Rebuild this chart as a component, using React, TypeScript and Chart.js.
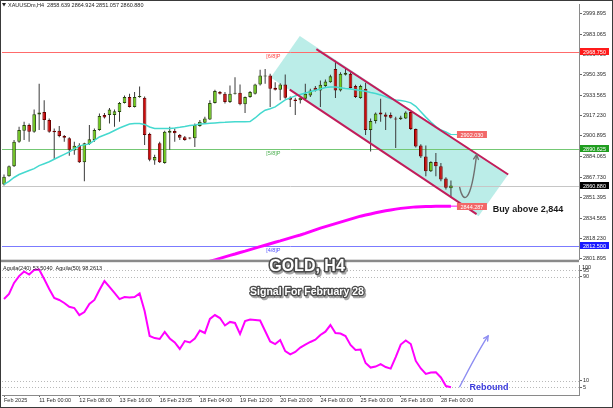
import React, { useEffect, useRef } from 'react';
import { Chart, registerables } from 'chart.js';

Chart.register(...registerables);

const FONT = '"Liberation Sans", Arial, sans-serif';
Chart.defaults.font.family = FONT;

// ---------------- price panel data (H4 bars, index 0 = 10 Feb) ----------------
const OPEN = [2861.8, 2868.4, 2876.4, 2896.3, 2905.1, 2909.7, 2904.3, 2918.2, 2920.3, 2913.7,
  2905.1, 2905.1, 2900.9, 2899.1, 2889.2, 2893.5, 2879.6, 2894.5, 2897.7, 2905.7,
  2917.7, 2917.7, 2917.7, 2920.3, 2927.5, 2932.3, 2924.3, 2932.3, 2931.8, 2902.5,
  2881.2, 2895.1, 2879.1, 2903.5, 2904.9, 2901.7, 2899.9, 2899.1, 2899.1, 2908.9,
  2911.5, 2914.2, 2927.5, 2936.3, 2935.0, 2928.3, 2935.0, 2935.8, 2926.4, 2932.3,
  2935.0, 2942.4, 2948.8, 2949.6, 2939.8, 2938.2, 2942.4, 2931.8, 2930.4, 2929.6,
  2931.0, 2933.6, 2939.8, 2937.6, 2941.1, 2944.3, 2954.8, 2937.6, 2950.2, 2951.0,
  2941.1, 2931.5, 2939.0, 2905.7, 2912.9, 2919.8, 2918.2, 2917.7, 2915.0, 2914.5,
  2915.0, 2920.3, 2906.5, 2893.2, 2884.4, 2872.4, 2879.9, 2876.4, 2866.6, 2858.639];
const HIGH = [2869.8, 2877.0, 2897.7, 2908.3, 2912.3, 2911.0, 2922.2, 2943.0, 2929.6, 2915.0,
  2907.0, 2908.9, 2901.7, 2899.9, 2896.3, 2895.1, 2895.5, 2909.7, 2907.0, 2919.0,
  2919.5, 2923.5, 2922.2, 2928.3, 2933.6, 2935.0, 2936.3, 2940.8, 2932.8, 2903.5,
  2885.7, 2896.3, 2905.1, 2908.3, 2907.0, 2902.5, 2900.9, 2899.9, 2911.0, 2913.7,
  2916.3, 2929.6, 2938.2, 2937.1, 2936.3, 2941.6, 2948.2, 2942.4, 2932.8, 2937.1,
  2943.0, 2954.2, 2955.0, 2951.0, 2944.3, 2943.5, 2950.4, 2932.8, 2931.8, 2932.8,
  2943.0, 2939.0, 2941.1, 2945.6, 2946.4, 2950.2, 2961.6, 2952.2, 2955.0, 2952.2,
  2942.2, 2942.2, 2943.8, 2915.0, 2919.8, 2931.0, 2919.8, 2919.8, 2916.3, 2917.1,
  2920.9, 2920.9, 2907.0, 2894.3, 2893.2, 2880.4, 2887.1, 2879.1, 2867.6, 2864.924];
const LOW = [2861.0, 2867.9, 2875.9, 2895.5, 2897.7, 2896.3, 2903.5, 2905.7, 2905.7, 2903.5,
  2882.3, 2899.9, 2896.3, 2884.9, 2885.7, 2879.1, 2864.4, 2893.7, 2896.3, 2905.1,
  2915.0, 2911.0, 2908.3, 2912.3, 2927.0, 2923.8, 2923.8, 2931.8, 2893.7, 2880.4,
  2877.7, 2879.1, 2878.5, 2889.7, 2896.3, 2897.7, 2897.1, 2898.3, 2891.9, 2908.3,
  2911.0, 2913.7, 2927.0, 2934.4, 2927.0, 2927.5, 2934.4, 2925.6, 2919.5, 2931.8,
  2934.4, 2941.6, 2943.0, 2924.3, 2937.6, 2929.6, 2931.0, 2924.3, 2917.7, 2927.0,
  2929.6, 2932.3, 2936.8, 2924.3, 2940.3, 2943.8, 2931.5, 2936.8, 2949.6, 2939.0,
  2931.5, 2931.0, 2901.7, 2888.4, 2911.0, 2912.3, 2905.7, 2915.0, 2891.1, 2913.7,
  2914.5, 2905.7, 2891.6, 2883.1, 2868.4, 2871.9, 2868.4, 2864.4, 2857.8, 2851.057];
const CLOSE = [2867.9, 2876.4, 2896.3, 2905.7, 2909.7, 2904.3, 2918.5, 2919.8, 2913.7, 2904.3,
  2903.9, 2900.9, 2899.5, 2889.7, 2892.9, 2879.6, 2895.1, 2898.3, 2905.7, 2916.9,
  2915.8, 2922.2, 2920.9, 2927.5, 2932.3, 2924.3, 2932.3, 2933.1, 2901.7, 2881.7,
  2883.9, 2879.6, 2904.3, 2905.1, 2903.1, 2899.5, 2897.7, 2898.9, 2909.7, 2912.3,
  2915.0, 2927.5, 2937.1, 2935.0, 2928.3, 2935.0, 2935.8, 2926.4, 2932.3, 2936.3,
  2942.4, 2949.6, 2949.6, 2939.0, 2938.2, 2942.4, 2931.8, 2930.2, 2929.1, 2931.8,
  2935.0, 2937.6, 2937.6, 2942.2, 2944.8, 2949.0, 2937.6, 2951.0, 2951.8, 2939.5,
  2932.3, 2941.1, 2905.7, 2912.9, 2919.0, 2918.2, 2916.3, 2915.5, 2914.2, 2915.8,
  2919.8, 2906.5, 2892.4, 2884.4, 2872.4, 2879.9, 2876.4, 2865.8, 2859.1, 2860.880];

const MA_FAST = [2861.8, 2864.2, 2867.4, 2869.8, 2871.4, 2873.0, 2874.5, 2877.0, 2878.5, 2880.1,
  2882.1, 2884.1, 2886.1, 2888.1, 2890.5, 2892.9, 2893.7, 2894.5, 2897.3, 2900.1,
  2901.7, 2903.3, 2905.3, 2907.3, 2908.9, 2910.5, 2910.9, 2911.0, 2910.2, 2908.1,
  2907.0, 2906.9, 2906.9, 2907.0, 2907.4, 2907.9, 2908.5, 2909.3, 2909.8, 2910.5,
  2910.8, 2911.1, 2911.4, 2911.7, 2911.9, 2912.2, 2912.3, 2912.3, 2912.3, 2912.5,
  2915.4, 2918.9, 2921.7, 2922.9, 2924.3, 2927.2, 2930.0, 2931.6, 2933.2, 2934.4,
  2935.6, 2936.6, 2937.8, 2938.8, 2939.9, 2940.4, 2940.4, 2939.8, 2939.2, 2938.8,
  2938.2, 2937.6, 2937.0, 2936.0, 2935.2, 2934.0, 2932.4, 2930.8, 2930.0, 2929.5,
  2928.8, 2927.6, 2924.8, 2920.5, 2916.1, 2912.1, 2908.5, 2905.7, 2904.1, 2902.030];

const MA_SLOW_FIRST_BAR = 41;
const MA_SLOW = [2799.8, 2801.0, 2802.2, 2803.4, 2804.6, 2805.7, 2806.9, 2808.0, 2809.2, 2810.4,
  2811.6, 2812.8, 2814.0, 2815.2, 2816.3, 2817.5, 2818.7, 2819.9, 2821.0, 2822.3,
  2823.8, 2825.2, 2826.6, 2827.8, 2829.0, 2830.2, 2831.4, 2832.6, 2833.8, 2835.0,
  2836.2, 2837.1, 2838.0, 2838.9, 2839.8, 2840.5, 2841.2, 2841.9, 2842.5, 2842.9,
  2843.3, 2843.7, 2843.9, 2844.0, 2844.1, 2844.15, 2844.2, 2844.25, 2844.287];

const PRICE_TICKS = [2999.895, 2983.065, 2966.730, 2950.395, 2933.565, 2917.230, 2900.895,
  2884.065, 2867.730, 2851.395, 2834.565, 2818.230, 2801.895];
const PRICE_MIN = 2801.1;
const PRICE_MAX = 3007.08;
const BAR_MIN = -0.4;
const BAR_MAX = 114.5;

const LEVEL_PRICES = [2968.75, 2890.625, 2812.5];
const LEVEL_NAMES = ['[6/8]P', '[5/8]P', '[4/8]P'];
const LEVEL_NAME_BAR = 52.2;
const BID_PRICE = 2860.88;

const CHANNEL_UPPER_BARS = [62.2, 100.4];
const CHANNEL_UPPER_PRICES = [2970.9, 2869.8];
const CHANNEL_LOWER_BARS = [56.9, 94.1];
const CHANNEL_LOWER_PRICES = [2938.2, 2837.8];
const CHANNEL_FILL_BARS = [58.9, 100.4, 94.5, 53.1];
const CHANNEL_FILL_PRICES = [2981.5, 2869.8, 2836.2, 2948.0];

const PATH_BARS = [90.74, 91.33, 92.9, 94.1];
const PATH_PRICES = [2859.4, 2847.4, 2843.4, 2885.7];

const BUY_TEXT = 'Buy above 2,844';
const BUY_BAR = 97.3;
const BUY_PRICE = 2841.8;

// ---------------- indicator panel data ----------------
const AGUILA = [72.8, 76.7, 85.2, 90.5, 94.0, 91.7, 95.2, 95.5, 88.2, 80.5,
  73.6, 72.1, 69.8, 66.9, 65.9, 60.5, 62.8, 69.0, 72.1, 79.8,
  86.7, 82.1, 77.5, 72.8, 74.4, 74.0, 74.4, 77.1, 63.6, 44.4,
  42.8, 42.1, 47.5, 42.5, 39.4, 34.4, 40.5, 39.4, 42.5, 48.6,
  46.7, 57.5, 60.5, 58.2, 52.5, 55.2, 54.4, 45.9, 55.9, 57.1,
  56.7, 56.3, 48.2, 40.2, 38.2, 41.3, 32.8, 30.3, 32.1, 35.5,
  37.8, 39.8, 41.5, 45.2, 47.7, 52.8, 46.7, 46.3, 44.4, 37.5,
  33.6, 34.0, 23.6, 20.1, 20.9, 22.8, 20.5, 19.3, 28.2, 37.8,
  40.9, 38.2, 25.2, 19.4, 15.2, 16.3, 16.5, 12.5, 5.9, 4.9];
const IND_MIN = -1;
const IND_MAX = 99;
const IND_TICKS = [95, 90, 10, 5];
const IND_LEVELS = [95, 90, 10, 5];
const IND_HEADER = 'Aguila(240) 53.5040  Aguila(50) 98.2613';

const REBOUND_BARS = [90.74, 92.1, 94.5, 96.4];
const REBOUND_VALUES = [5.4, 15.2, 33.6, 44.4];
const REBOUND_TEXT = 'Rebound';
const REBOUND_TEXT_BAR = 92.7;
const REBOUND_TEXT_VALUE = 4.4;

const TIME_TICK_BARS = [0, 7, 15, 23, 31, 39, 47, 55, 63, 71, 79, 87];
const TIME_TICK_LABELS = ['Feb 2025', '11 Feb 00:00', '12 Feb 08:00', '13 Feb 16:00', '16 Feb 23:05',
  '18 Feb 04:00', '19 Feb 12:00', '20 Feb 20:00', '24 Feb 00:00', '25 Feb 00:00', '26 Feb 16:00', '28 Feb 00:00'];

const TITLE = 'GOLD, H4';
const SUBTITLE = 'Signal For February 28';

// ---------------- styles ----------------
const LEVEL_LINE_COLORS = ['#ff6b6b', '#74c874', '#7b7bff'];
const LEVEL_TEXT_COLORS = ['#ff4545', '#4caf50', '#5050ff'];
const LEVEL_BOX_COLORS = ['#ff1a1a', '#1f9d1f', '#1a1aff'];
const SMALL = `5.5px ${FONT}`;

function hline(ctx: any, a: any, y: number, color: string) {
  const yy = Math.round(y) + 0.5;
  ctx.beginPath();
  ctx.moveTo(a.left, yy);
  ctx.lineTo(a.right, yy);
  ctx.strokeStyle = color;
  ctx.lineWidth = 1;
  ctx.stroke();
}

function tag(ctx: any, x: number, y: number, w: number, h: number, fill: string, text: string) {
  const top = Math.round(y - h / 2);
  ctx.fillStyle = fill;
  ctx.fillRect(x, top, w, h);
  ctx.fillStyle = '#fff';
  ctx.font = SMALL;
  ctx.textAlign = 'center';
  ctx.textBaseline = 'middle';
  ctx.fillText(text, x + w / 2, top + h / 2 + 0.5);
}

function curveArrow(ctx: any, pts: number[][], color: string, width: number, head: number) {
  ctx.strokeStyle = color;
  ctx.lineWidth = width;
  ctx.lineCap = 'round';
  ctx.beginPath();
  ctx.moveTo(pts[0][0], pts[0][1]);
  ctx.bezierCurveTo(pts[1][0], pts[1][1], pts[2][0], pts[2][1], pts[3][0], pts[3][1]);
  ctx.stroke();
  const ang = Math.atan2(pts[3][1] - pts[2][1], pts[3][0] - pts[2][0]);
  const [tx, ty] = pts[3];
  ctx.beginPath();
  ctx.moveTo(tx - head * Math.cos(ang - 0.5), ty - head * Math.sin(ang - 0.5));
  ctx.lineTo(tx, ty);
  ctx.lineTo(tx - head * Math.cos(ang + 0.5), ty - head * Math.sin(ang + 0.5));
  ctx.stroke();
}

function outlined(ctx: any, text: string, x: number, y: number, font: string, lw: number) {
  ctx.font = font;
  ctx.textAlign = 'center';
  ctx.textBaseline = 'middle';
  ctx.lineJoin = 'round';
  ctx.strokeStyle = 'rgba(60,60,60,0.45)';
  ctx.lineWidth = lw;
  ctx.strokeText(text, x + 1.5, y + 1.5);
  ctx.strokeStyle = '#4a4a4a';
  ctx.strokeText(text, x, y);
  ctx.fillStyle = '#ffffff';
  ctx.fillText(text, x, y);
}

const topPlugin = {
  id: 'topDeco',
  beforeDatasetsDraw(chart: any) {
    const { ctx, chartArea: a } = chart;
    const xs = chart.scales.x, ys = chart.scales.y;
    ctx.save();
    ctx.beginPath();
    ctx.rect(a.left, a.top, a.right - a.left, a.bottom - a.top);
    ctx.clip();
    ctx.beginPath();
    CHANNEL_FILL_BARS.forEach((b, k) => {
      const X = xs.getPixelForValue(b), Y = ys.getPixelForValue(CHANNEL_FILL_PRICES[k]);
      if (k) ctx.lineTo(X, Y); else ctx.moveTo(X, Y);
    });
    ctx.closePath();
    ctx.fillStyle = 'rgba(120, 220, 210, 0.5)';
    ctx.fill();
    LEVEL_PRICES.forEach((p, k) => hline(ctx, a, ys.getPixelForValue(p), LEVEL_LINE_COLORS[k]));
    hline(ctx, a, ys.getPixelForValue(BID_PRICE), '#c6c6c6');
    ctx.restore();
  },
  afterDatasetsDraw(chart: any) {
    const { ctx, chartArea: a } = chart;
    const xs = chart.scales.x, ys = chart.scales.y;
    const P = (b: number, p: number) => [xs.getPixelForValue(b), ys.getPixelForValue(p)];
    ctx.save();
    // channel borders
    ctx.strokeStyle = '#c21d5a';
    ctx.lineWidth = 2;
    [[CHANNEL_UPPER_BARS, CHANNEL_UPPER_PRICES], [CHANNEL_LOWER_BARS, CHANNEL_LOWER_PRICES]].forEach(([bs, ps]) => {
      const s = P(bs[0], ps[0]), e = P(bs[1], ps[1]);
      ctx.beginPath();
      ctx.moveTo(s[0], s[1]);
      ctx.lineTo(e[0], e[1]);
      ctx.stroke();
    });
    // projected path arrow
    curveArrow(ctx, PATH_BARS.map((b, k) => P(b, PATH_PRICES[k])), '#707070', 1.4, 5);
    // level names
    ctx.font = SMALL;
    ctx.textAlign = 'left';
    ctx.textBaseline = 'top';
    LEVEL_PRICES.forEach((p, k) => {
      ctx.fillStyle = LEVEL_TEXT_COLORS[k];
      ctx.fillText(LEVEL_NAMES[k], xs.getPixelForValue(LEVEL_NAME_BAR), Math.round(ys.getPixelForValue(p)) + 1.5);
    });
    // MA end labels
    const last = OPEN.length - 1;
    const lx = xs.getPixelForValue(last);
    const maTags = [
      [MA_FAST[MA_FAST.length - 1], '#45d9cf'],
      [MA_SLOW[MA_SLOW.length - 1], '#ff00ff'],
    ];
    maTags.forEach(([v, c]: any) => {
      const y = ys.getPixelForValue(v);
      ctx.strokeStyle = c;
      ctx.lineWidth = 1;
      ctx.beginPath();
      ctx.moveTo(lx, y);
      ctx.lineTo(lx + 6, y);
      ctx.stroke();
      tag(ctx, lx + 6, y, 30, 7, '#f26868', v.toFixed(3));
    });
    // buy text
    const bp = P(BUY_BAR, BUY_PRICE);
    ctx.font = `bold 9px ${FONT}`;
    ctx.fillStyle = '#1a1a1a';
    ctx.textAlign = 'left';
    ctx.textBaseline = 'middle';
    ctx.fillText(BUY_TEXT, bp[0], bp[1]);
    ctx.restore();
  },
  afterDraw(chart: any) {
    const { ctx, chartArea: a } = chart;
    const ys = chart.scales.y;
    ctx.save();
    LEVEL_PRICES.forEach((p, k) => tag(ctx, a.right + 1, ys.getPixelForValue(p), 29, 7, LEVEL_BOX_COLORS[k], p.toFixed(3)));
    tag(ctx, a.right + 1, ys.getPixelForValue(BID_PRICE), 29, 7, '#000000', BID_PRICE.toFixed(3));
    // title
    const last = OPEN.length - 1;
    ctx.fillStyle = '#222';
    ctx.beginPath();
    ctx.moveTo(2, 3);
    ctx.lineTo(6, 3);
    ctx.lineTo(4, 6.5);
    ctx.closePath();
    ctx.fill();
    ctx.font = SMALL;
    ctx.textAlign = 'left';
    ctx.textBaseline = 'middle';
    ctx.fillText(`XAUUSDm,H4  ${OPEN[last].toFixed(3)} ${HIGH[last].toFixed(3)} ${LOW[last].toFixed(3)} ${CLOSE[last].toFixed(3)}`, 8, 5);
    // panel separator
    ctx.fillStyle = '#8a8a8a';
    ctx.fillRect(0, a.bottom, a.right, 2.5);
    ctx.restore();
  },
};

const bottomPlugin = {
  id: 'botDeco',
  beforeDatasetsDraw(chart: any) {
    const { ctx, chartArea: a } = chart;
    const ys = chart.scales.y;
    ctx.save();
    ctx.setLineDash([1, 2]);
    IND_LEVELS.forEach((v) => hline(ctx, a, ys.getPixelForValue(v), '#b9b9b9'));
    ctx.restore();
  },
  afterDatasetsDraw(chart: any) {
    const { ctx } = chart;
    const xs = chart.scales.x, ys = chart.scales.y;
    ctx.save();
    curveArrow(ctx, REBOUND_BARS.map((b, k) => [xs.getPixelForValue(b), ys.getPixelForValue(REBOUND_VALUES[k])]), '#8d8df2', 1.4, 5);
    ctx.font = `bold 9px ${FONT}`;
    ctx.fillStyle = '#3b3bdc';
    ctx.textAlign = 'left';
    ctx.textBaseline = 'middle';
    ctx.fillText(REBOUND_TEXT, xs.getPixelForValue(REBOUND_TEXT_BAR), ys.getPixelForValue(REBOUND_TEXT_VALUE));
    ctx.restore();
  },
  afterDraw(chart: any) {
    const { ctx, chartArea: a } = chart;
    ctx.save();
    ctx.font = SMALL;
    ctx.fillStyle = '#222';
    ctx.textAlign = 'left';
    ctx.textBaseline = 'middle';
    ctx.fillText(IND_HEADER, 3, a.top + 3.5);
    ctx.fillText('100', a.right + 3, a.top + 2);
    outlined(ctx, TITLE, 307, a.top + 2, `bold 16px ${FONT}`, 3);
    outlined(ctx, SUBTITLE, 307, a.top + 27.5, `bold 10.5px ${FONT}`, 2.5);
    ctx.restore();
  },
};

function buildTop(canvas: HTMLCanvasElement) {
  const up = OPEN.map((o, i) => CLOSE[i] >= o);
  return new Chart(canvas, {
    type: 'bar',
    data: {
      datasets: [
        {
          type: 'line',
          data: MA_SLOW.map((v, k) => ({ x: k + MA_SLOW_FIRST_BAR, y: v })),
          borderColor: '#ff00ff', borderWidth: 3, pointRadius: 0, tension: 0, order: 0,
        } as any,
        {
          type: 'line',
          data: MA_FAST.map((v, i) => ({ x: i, y: v })),
          borderColor: '#45d9cf', borderWidth: 1.5, pointRadius: 0, tension: 0, order: 0,
        },
        {
          type: 'bar',
          data: OPEN.map((o, i) => ({ x: i, y: [o, CLOSE[i]] })),
          backgroundColor: up.map((u) => (u ? '#6fcf17' : '#cf0a0a')),
          borderColor: up.map((u) => (u ? '#28480c' : '#6b0000')),
          borderWidth: 1, borderSkipped: false, maxBarThickness: 4, grouped: false, minBarLength: 1, order: 1,
        },
        {
          type: 'bar',
          data: OPEN.map((o, i) => ({ x: i, y: [LOW[i], HIGH[i]] })),
          backgroundColor: '#3a3a3a', borderWidth: 0, maxBarThickness: 1, grouped: false, order: 2,
        },
      ],
    },
    options: {
      animation: false,
      responsive: false,
      maintainAspectRatio: false,
      events: [],
      layout: { padding: { left: 2, top: 3, right: 0, bottom: 3 } },
      plugins: { legend: { display: false }, tooltip: { enabled: false } },
      scales: {
        x: { type: 'linear', min: BAR_MIN, max: BAR_MAX, display: false, offset: false, bounds: 'data' },
        y: {
          type: 'linear', position: 'right', min: PRICE_MIN, max: PRICE_MAX, bounds: 'data', beginAtZero: false,
          afterFit: (s: any) => { s.width = 34; },
          afterBuildTicks: (s: any) => { s.ticks = PRICE_TICKS.map((v) => ({ value: v })); },
          ticks: { font: { size: 5.5 }, color: '#2a2a2a', padding: 1, autoSkip: false, callback: (v: any) => Number(v).toFixed(3) },
          grid: { drawOnChartArea: false, tickLength: 3, color: '#666' },
          border: { color: '#8a8a8a' },
        },
      },
    } as any,
    plugins: [topPlugin],
  });
}

function buildBottom(canvas: HTMLCanvasElement) {
  return new Chart(canvas, {
    type: 'line',
    data: {
      datasets: [{
        data: AGUILA.map((v, i) => ({ x: i, y: v })),
        borderColor: '#ff00ff', borderWidth: 2, pointRadius: 0, tension: 0,
      }],
    },
    options: {
      animation: false,
      responsive: false,
      maintainAspectRatio: false,
      events: [],
      layout: { padding: { left: 2, top: 17, right: 0, bottom: 0 } },
      plugins: { legend: { display: false }, tooltip: { enabled: false } },
      scales: {
        x: {
          type: 'linear', min: BAR_MIN, max: BAR_MAX, offset: false, bounds: 'data',
          afterFit: (s: any) => { s.height = 13; },
          afterBuildTicks: (s: any) => { s.ticks = TIME_TICK_BARS.map((v) => ({ value: v })); },
          ticks: {
            align: 'start', font: { size: 5.5 }, color: '#2a2a2a', padding: 0, autoSkip: false,
            maxRotation: 0, minRotation: 0, callback: (_v: any, idx: number) => TIME_TICK_LABELS[idx],
          },
          grid: { drawOnChartArea: false, tickLength: 2, color: '#666' },
          border: { color: '#8a8a8a' },
        },
        y: {
          type: 'linear', position: 'right', min: IND_MIN, max: IND_MAX, bounds: 'data',
          afterFit: (s: any) => { s.width = 34; },
          afterBuildTicks: (s: any) => { s.ticks = IND_TICKS.map((v) => ({ value: v })); },
          ticks: { font: { size: 5.5 }, color: '#2a2a2a', padding: 1, autoSkip: false },
          grid: { drawOnChartArea: false, tickLength: 3, color: '#666' },
          border: { color: '#8a8a8a' },
        },
      },
    } as any,
    plugins: [bottomPlugin],
  });
}

export default function App() {
  const topRef = useRef<HTMLCanvasElement>(null);
  const botRef = useRef<HTMLCanvasElement>(null);
  useEffect(() => {
    const top = buildTop(topRef.current as HTMLCanvasElement);
    const bot = buildBottom(botRef.current as HTMLCanvasElement);
    return () => {
      top.destroy();
      bot.destroy();
    };
  }, []);
  return (
    <div style={{ position: 'fixed', left: 0, top: 0, width: 613, height: 408, background: '#fff', overflow: 'hidden' }}>
      <canvas ref={topRef} width={613} height={264} style={{ position: 'absolute', left: 0, top: 0, width: 613, height: 264 }} />
      <canvas ref={botRef} width={613} height={160} style={{ position: 'absolute', left: 0, top: 248, width: 613, height: 160 }} />
      <div style={{ position: 'absolute', left: 0, top: 0, width: 613, height: 408, boxSizing: 'border-box', border: '1px solid #3a3a3a', pointerEvents: 'none' }} />
    </div>
  );
}
